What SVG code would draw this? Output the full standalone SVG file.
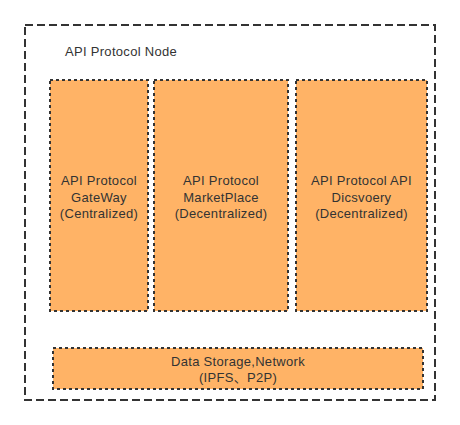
<svg xmlns="http://www.w3.org/2000/svg" width="460" height="425" viewBox="0 0 460 425">
<style>
text{font-family:"Liberation Sans","Noto Sans CJK SC",sans-serif;font-size:13px;letter-spacing:0.3px;fill:#333;text-anchor:middle}
.box{fill:#FFB366;stroke:#333;stroke-width:2;stroke-dasharray:3 3}
.outer{fill:#fff;stroke:#333;stroke-width:2;stroke-dasharray:8 4}
</style>
<rect width="460" height="425" fill="#fff"/>
<g id="node-outer">
<rect class="outer" x="25" y="25" width="410" height="375"/>
<text x="65" y="56" style="text-anchor:start">API Protocol Node</text>
</g>
<g id="node-gateway">
<rect class="box" x="50" y="80" width="98" height="231"/>
<text x="99" y="185">API Protocol</text>
<text x="99" y="202">GateWay</text>
<text x="99" y="218">(Centralized)</text>
</g>
<g id="node-marketplace">
<rect class="box" x="154" y="80" width="134" height="231"/>
<text x="221" y="185">API Protocol</text>
<text x="221" y="202">MarketPlace</text>
<text x="221" y="218">(Decentralized)</text>
</g>
<g id="node-discovery">
<rect class="box" x="296" y="80" width="131" height="231"/>
<text x="361.5" y="185">API Protocol API</text>
<text x="361.5" y="202">Dicsvoery</text>
<text x="361.5" y="218">(Decentralized)</text>
</g>
<g id="node-storage">
<rect class="box" x="53" y="348" width="370" height="41"/>
<text x="238" y="366">Data Storage,Network</text>
<text x="238" y="382">(IPFS、P2P)</text>
</g>
<g id="connectors"></g>
</svg>
